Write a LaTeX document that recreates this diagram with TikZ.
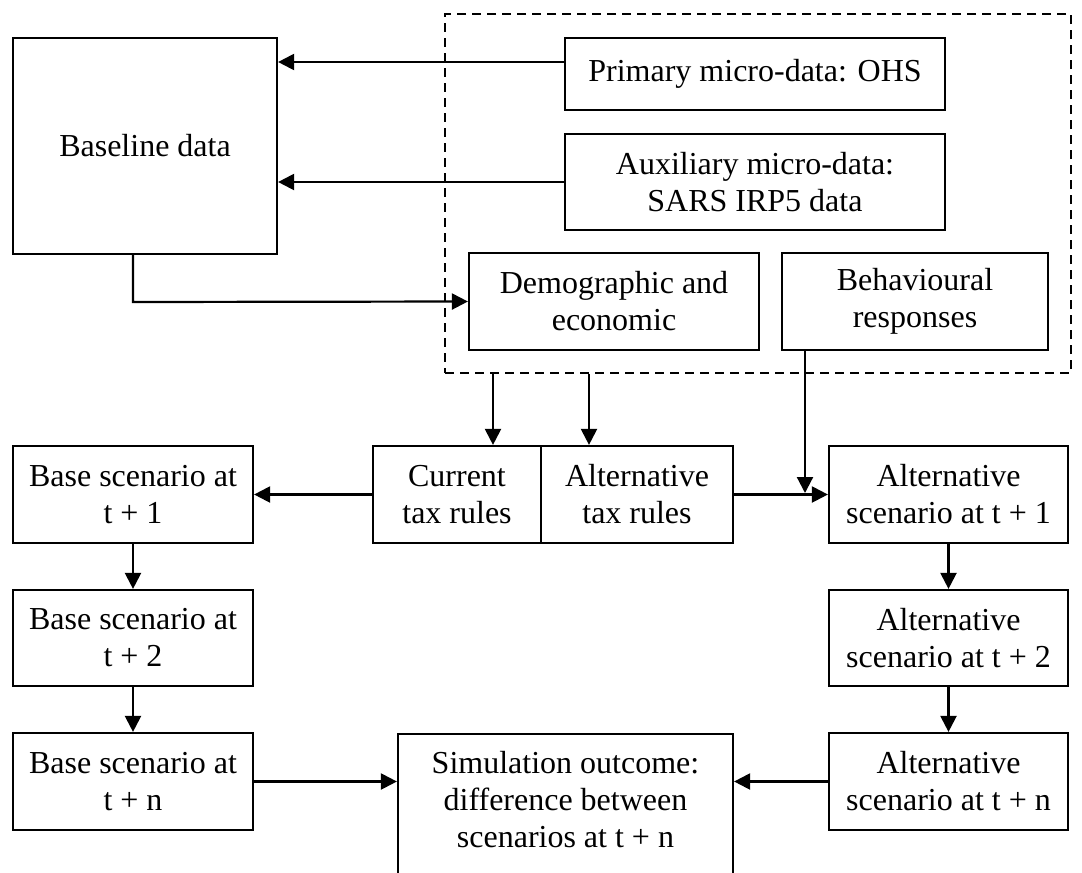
\documentclass[tikz,border=0pt]{standalone}
\usepackage{fontspec}
\setmainfont{Liberation Serif}
\usetikzlibrary{arrows.meta,calc}
\begin{document}
\begin{tikzpicture}[x=1pt,y=-1pt,
  box/.style={draw,line width=2.2pt,inner sep=0pt,align=center,font=\fontsize{32}{37}\selectfont},
  arr/.style={line width=2.2pt,-{Triangle[length=16pt,width=16pt]}},
  ln/.style={line width=2.2pt}]
\useasboundingbox (0,0) rectangle (1082,873);
% dashed region
\node[draw,dash pattern=on 9pt off 6pt,line width=1.8pt,minimum width=626pt,minimum height=359pt,inner sep=0pt] (dbox) at (758,193.5) {};
% boxes
\node[box,minimum width=264pt,minimum height=216pt] (base) at (145,146) {Baseline data};
\node[box,minimum width=380pt,minimum height=72pt] (prim) at (755,74) {Primary micro-data: OHS};
\node[box,minimum width=380pt,minimum height=96pt] (aux) at (755,182) {Auxiliary micro-data:\\SARS IRP5 data};
\node[box,minimum width=290pt,minimum height=97pt] (demo) at (614,301.5) {Demographic and\\economic};
\node[box,minimum width=266pt,minimum height=97pt] (behav) at (915,301.5) {Behavioural\\responses};
\node[box,minimum width=168pt,minimum height=97pt] (cur) at (457,494.5) {Current\\tax rules};
\node[box,minimum width=192pt,minimum height=97pt] (alt) at (637,494.5) {Alternative\\tax rules};
\node[box,minimum width=240pt,minimum height=97pt] (b1) at (133,494.5) {Base scenario at\\t + 1};
\node[box,minimum width=240pt,minimum height=96pt] (b2) at (133,638) {Base scenario at\\t + 2};
\node[box,minimum width=240pt,minimum height=97pt] (bn) at (133,781.5) {Base scenario at\\t + n};
\node[box,minimum width=239pt,minimum height=97pt] (a1) at (948.5,494.5) {Alternative\\scenario at t + 1};
\node[box,minimum width=239pt,minimum height=96pt] (a2) at (948.5,638) {Alternative\\scenario at t + 2};
\node[box,minimum width=239pt,minimum height=97pt] (an) at (948.5,781.5) {Alternative\\scenario at t + n};
\node[box,minimum width=335pt,minimum height=170pt] (sim) at (565.5,819) {};
\node[font=\fontsize{32}{37}\selectfont,align=center,inner sep=0pt] (simtext) at (565.5,800) {Simulation outcome:\\difference between\\scenarios at t + n};
% connectors
\draw[arr] (prim.west |- 0,62) -- (base.east |- 0,62);
\draw[arr] (aux.west) -- (base.east |- aux.west);
\coordinate (bd) at (133,302);
\draw[arr] (base.south -| bd) -- (bd) -- (demo.west);
\draw[arr] (dbox.south -| 493,0) -- (cur.north -| 493,0);
\draw[arr] (dbox.south -| 589,0) -- (alt.north -| 589,0);
\coordinate (bt) at (805,493);
\draw[arr] (behav.south -| bt) -- (bt);
\draw[arr] (cur.west) -- (b1.east);
\draw[arr] (alt.east) -- (a1.west);
\draw[arr] (b1.south) -- (b2.north);
\draw[arr] (b2.south) -- (bn.north);
\draw[arr] (a1.south) -- (a2.north);
\draw[arr] (a2.south) -- (an.north);
\draw[arr] (bn.east) -- (sim.west |- bn.east);
\draw[arr] (an.west) -- (sim.east |- an.west);
\end{tikzpicture}
\end{document}
